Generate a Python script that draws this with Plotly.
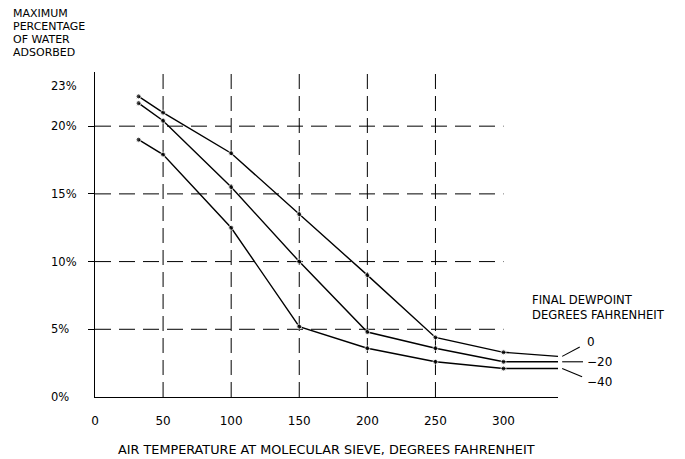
import plotly.graph_objects as go

# ---- data ----
temps = [32, 50, 100, 150, 200, 250, 300, 340]
dew_0 = [22.2, 21.0, 18.0, 13.5, 9.0, 4.4, 3.3, 3.0]
dew_m20 = [21.7, 20.4, 15.5, 10.0, 4.8, 3.6, 2.6, 2.6]
dew_m40 = [19.0, 17.9, 12.5, 5.2, 3.6, 2.6, 2.1, 2.1]
series_names = ["0", "-20", "-40"]

x_ticks = [0, 50, 100, 150, 200, 250, 300]
y_ticks = [0, 5, 10, 15, 20, 23]
y_tick_labels = ["0%", "5%", "10%", "15%", "20%", "23%"]
x_grid = [50, 100, 150, 200, 250]
y_grid = [5, 10, 15, 20]
title_lines = ["MAXIMUM", "PERCENTAGE", "OF WATER", "ADSORBED"]
legend_title_lines = ["FINAL DEWPOINT", "DEGREES FAHRENHEIT"]

FONT = "DejaVu Sans"
X_MAX = 340
Y_MAX = 24

fig = go.Figure()

for name, vals in zip(series_names, [dew_0, dew_m20, dew_m40]):
    sizes = [5] * (len(vals) - 1) + [0]
    fig.add_trace(go.Scatter(
        x=temps, y=vals, name=name, mode="lines+markers",
        line=dict(color="black", width=1.4),
        marker=dict(color="black", size=sizes),
        showlegend=False, hoverinfo="skip",
    ))

shapes = []
for gx in x_grid:
    shapes.append(dict(type="line", xref="x", yref="y", x0=gx, x1=gx, y0=0, y1=Y_MAX,
                       line=dict(color="black", width=1, dash="15px,7px"), layer="below"))
for gy in y_grid:
    shapes.append(dict(type="line", xref="x", yref="y", x0=0, x1=x_ticks[-1], y0=gy, y1=gy,
                       line=dict(color="black", width=1, dash="16px,8px"), layer="below"))

# leader lines to the series labels (paper x, data y)
lead_x0 = 1.009
leaders = [
    (dew_0[-1], lead_x0, 1.047, 3.7),
    (dew_m20[-1], lead_x0, 1.054, dew_m20[-1]),
    (dew_m40[-1], lead_x0, 1.052, 1.5),
]
for y0, x0, x1, y1 in leaders:
    shapes.append(dict(type="line", xref="paper", yref="y", x0=x0, x1=x1, y0=y0, y1=y1,
                       line=dict(color="black", width=1.1)))

annotations = []
for v, t in zip(y_ticks, y_tick_labels):
    annotations.append(dict(text=t, xref="paper", yref="y", x=0, y=v, xshift=-46,
                            xanchor="left", yanchor="middle", showarrow=False,
                            font=dict(family=FONT, size=11.5, color="black")))

for i, line in enumerate(title_lines):
    annotations.append(dict(text=line, xref="paper", yref="paper", x=0, y=1,
                            xshift=-84, yshift=59 - 13 * i,
                            xanchor="left", yanchor="middle", showarrow=False,
                            font=dict(family=FONT, size=11, color="black")))

annotations.append(dict(text="AIR TEMPERATURE AT MOLECULAR SIEVE, DEGREES FAHRENHEIT",
                        xref="paper", yref="paper", x=0.5, y=0, yshift=-52,
                        xanchor="center", yanchor="middle", showarrow=False,
                        font=dict(family=FONT, size=12.8, color="black")))

annotations.append(dict(text="<br>".join(legend_title_lines), xref="paper", yref="y",
                        x=0.94, y=6.6, xanchor="left", yanchor="middle", align="left",
                        showarrow=False, font=dict(family=FONT, size=11.6, color="black")))

label_y = [4.05, dew_m20[-1], 1.1]
for name, ly in zip(series_names, label_y):
    annotations.append(dict(text=name.replace("-", "\u2212"), xref="paper", yref="y", x=1.058, y=ly,
                            xanchor="left", yanchor="middle", showarrow=False,
                            font=dict(family=FONT, size=12, color="black")))

# page body has an 8px margin, so the figure is drawn 8px in from the top-left corner
fig.update_layout(
    width=677, height=451,
    margin=dict(l=87, r=127, t=64, b=62),
    paper_bgcolor="white", plot_bgcolor="white",
    font=dict(family=FONT, size=11, color="black"),
    shapes=shapes, annotations=annotations,
    xaxis=dict(range=[0, X_MAX], showgrid=False, zeroline=False, showline=True,
               linecolor="black", linewidth=1.3, tickvals=x_ticks,
               ticktext=[str(t) for t in x_ticks], ticks="", ticklabelstandoff=12,
               tickfont=dict(family=FONT, size=12, color="black")),
    yaxis=dict(range=[0, Y_MAX], showgrid=False, zeroline=False, showline=True,
               linecolor="black", linewidth=1.3, tickvals=y_grid, ticks="outside",
               ticklen=6, tickcolor="black", tickwidth=1, showticklabels=False),
)

fig.write_html("out.html")
